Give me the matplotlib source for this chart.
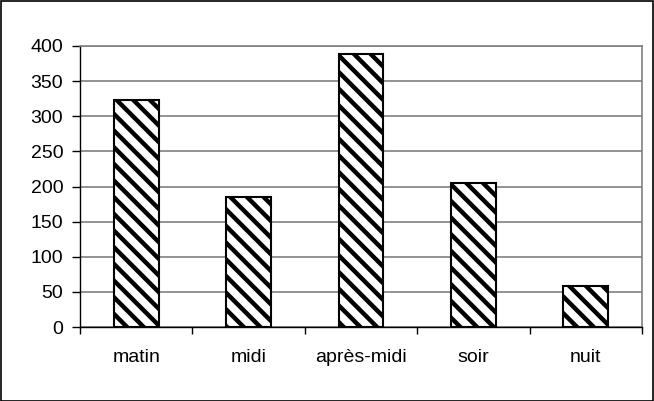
import matplotlib.pyplot as plt
from matplotlib.patches import Rectangle

plt.rcParams['font.family'] = ['Liberation Sans', 'DejaVu Sans']
plt.rcParams['hatch.linewidth'] = 3.2

categories = ['matin', 'midi', 'après-midi', 'soir', 'nuit']
values = [323, 185, 388, 205, 58]
yticks = [0, 50, 100, 150, 200, 250, 300, 350, 400]

fig = plt.figure(figsize=(6.54, 4.01), dpi=100)
ax = fig.add_axes([80 / 654, 1 - 327 / 401, 562 / 654, 281 / 401])

x = list(range(len(categories)))
ax.bar(x, values, width=0.4, color='white', edgecolor='black',
       linewidth=1.5, hatch='\\\\', zorder=3)

ax.set_xlim(-0.5, len(categories) - 0.5)
ax.set_ylim(0, 400)
ax.set_yticks(yticks)
ax.yaxis.grid(True, color='#808080', linewidth=1.2, zorder=0)

# ticks between categories, labels centred on bars
ax.set_xticks([i - 0.5 for i in range(len(categories) + 1)])
ax.set_xticklabels([])
ax.set_xticks(x, minor=True)
ax.set_xticklabels(categories, minor=True)
ax.tick_params(axis='x', which='minor', length=0, pad=16, labelsize=14)
ax.tick_params(axis='x', which='major', length=5, width=1, color='black')
ax.tick_params(axis='y', length=6, width=1, pad=6, labelsize=14)

for s in ['top', 'right']:
    ax.spines[s].set_color('#808080')
    ax.spines[s].set_linewidth(1.2)
for s in ['left', 'bottom']:
    ax.spines[s].set_color('black')
    ax.spines[s].set_linewidth(1.0)

# outer chart frame
fig.patches.append(Rectangle((0.001, 0.001), 0.997, 0.997, transform=fig.transFigure,
                             fill=False, edgecolor='black', linewidth=1.2))

fig.savefig('out.png', dpi=100)
